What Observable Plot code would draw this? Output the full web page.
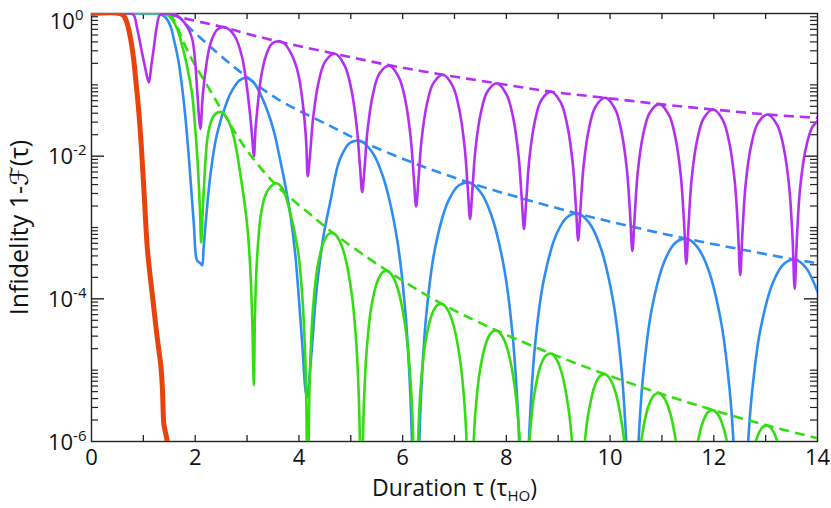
<!DOCTYPE html>
<html><head><meta charset="utf-8">
<script src="https://cdn.jsdelivr.net/npm/d3@7"></script>
<script src="https://cdn.jsdelivr.net/npm/@observablehq/plot@0.6"></script>
<style>html,body{margin:0;padding:0;background:#fff;} #chart svg{display:block;}</style>
</head><body><div id="chart"></div>
<script>
// ---- data: [duration tau, log10(infidelity)] ----
const redLog10 = [[0,0],[0.55,0],[0.62,-0.03],[0.68,-0.12],[0.72,-0.23],[0.77,-0.42],[0.816,-0.66],[0.86,-0.98],[0.91,-1.36],[0.96,-1.85],[1.022,-2.62],[1.08,-3.32],[1.185,-4.02],[1.26,-4.5],[1.34,-4.96],[1.37,-5.3],[1.394,-5.75],[1.42,-5.85],[1.46,-6.0],[1.5,-6.3]];

const purpleLog10 = [[0,0],[0.6,0],[0.8,-0.01],[0.88,-0.21],[0.958,-0.49],[1.035,-0.76],[1.105,-0.967],[1.155,-0.72],[1.2,-0.49],[1.253,-0.21],[1.32,-0.02],[1.45,0],[1.6,-0.01],[1.72,-0.07],[1.85,-0.19],[1.94,-0.35],[2.0,-0.68],[2.04,-1.1],[2.1,-1.617],[2.14,-1.2],[2.19,-0.85],[2.29,-0.43],[2.42,-0.23],[2.53,-0.19],[2.65,-0.22],[2.78,-0.34],[2.9,-0.6],[2.97,-0.89],[3.05,-1.36],[3.1,-1.75],[3.13,-2.005],[3.165,-1.6],[3.195,-1.36],[3.27,-0.89],[3.36,-0.6],[3.47,-0.43],[3.58,-0.388],[3.7,-0.41],[3.82,-0.52],[3.93,-0.7],[4.0,-0.89],[4.09,-1.36],[4.14,-1.8],[4.17,-2.28],
[4.212,-2.0],[4.275,-1.455],[4.38,-0.959],[4.506,-0.673],[4.695,-0.565],[4.884,-0.733],[5.01,-1.06],[5.115,-1.59],[5.178,-2.15],[5.22,-2.505],
[5.262,-2.2],[5.324,-1.63],[5.428,-1.13],[5.553,-0.842],[5.74,-0.733],[5.927,-0.894],[6.052,-1.216],[6.156,-1.748],[6.218,-2.33],[6.26,-2.706],
[6.302,-2.363],[6.364,-1.778],[6.468,-1.268],[6.593,-0.976],[6.78,-0.858],[6.967,-1.02],[7.092,-1.342],[7.196,-1.877],[7.258,-2.476],[7.3,-2.88],
[7.342,-2.502],[7.404,-1.905],[7.508,-1.392],[7.633,-1.098],[7.82,-0.979],[8.007,-1.14],[8.132,-1.463],[8.236,-2.0],[8.298,-2.611],[8.34,-3.02],
[8.382,-2.637],[8.445,-2.028],[8.549,-1.511],[8.674,-1.215],[8.863,-1.096],[9.051,-1.251],[9.176,-1.572],[9.281,-2.108],[9.343,-2.731],[9.385,-3.18],
[9.427,-2.759],[9.49,-2.131],[9.594,-1.608],[9.719,-1.307],[9.908,-1.182],[10.096,-1.338],[10.221,-1.661],[10.326,-2.2],[10.388,-2.838],[10.43,-3.33],
[10.472,-2.874],[10.534,-2.224],[10.638,-1.697],[10.763,-1.394],[10.95,-1.27],[11.137,-1.424],[11.262,-1.746],[11.366,-2.289],[11.428,-2.949],[11.47,-3.51],
[11.512,-2.981],[11.574,-2.311],[11.678,-1.778],[11.803,-1.472],[11.99,-1.346],[12.177,-1.498],[12.302,-1.822],[12.406,-2.369],[12.468,-3.048],[12.51,-3.67],
[12.552,-3.078],[12.615,-2.388],[12.72,-1.852],[12.846,-1.543],[13.035,-1.416],[13.224,-1.565],[13.35,-1.888],[13.455,-2.436],[13.518,-3.134],[13.56,-3.86],
[13.602,-3.16],[13.665,-2.445],[13.77,-1.908],[13.896,-1.598],[14,-1.51]];

const blueLog10 = [[0,0],[1.1,0],[1.3,-0.005],[1.42,-0.05],[1.52,-0.17],[1.6,-0.4],[1.68,-0.68],[1.75,-1.05],[1.81,-1.45],[1.876,-2.01],[1.925,-2.48],[1.973,-2.95],[2.025,-3.44],[2.06,-3.48],[2.1,-3.5],[2.135,-3.53],[2.16,-3.3],[2.2,-2.95],[2.295,-2.25],[2.42,-1.69],[2.62,-1.22],[2.71,-1.08],[2.85,-0.94],[2.98,-0.9],[3.12,-0.96],[3.25,-1.12],[3.39,-1.36],[3.52,-1.66],[3.64,-2.06],[3.74,-2.42],[3.84,-2.85],[3.93,-3.38],[4.0,-4.0],[4.07,-4.7],[4.13,-5.3],[4.16,-5.38],[4.19,-5.2],[4.22,-4.96],[4.27,-4.5],[4.32,-4.02],[4.4,-3.5],[4.48,-3.09],[4.61,-2.62],[4.787,-2.05],[4.996,-1.807],[5.205,-1.796],[5.414,-1.945],[5.623,-2.29],[5.874,-3.08],[6.041,-4.085],[6.146,-5.3],[6.198,-6.51],[6.25,-8],
[6.302,-6.54],[6.3545,-5.35],[6.459,-4.2],[6.626,-3.286],[6.877,-2.634],[7.086,-2.407],[7.295,-2.373],[7.504,-2.506],[7.713,-2.832],[7.964,-3.6],[8.131,-4.595],[8.236,-5.8],[8.288,-7.0],[8.34,-8],
[8.392,-7.03],[8.4445,-5.84],[8.549,-4.68],[8.716,-3.758],[8.967,-3.092],[9.176,-2.852],[9.385,-2.806],[9.594,-2.931],[9.803,-3.248],[10.054,-4.008],[10.221,-4.993],[10.326,-6.19],[10.43,-8],
[10.5345,-6.227],[10.576,-5.66],[10.639,-5.063],[10.806,-4.134],[11.057,-3.458],[11.266,-3.211],[11.475,-3.158],[11.684,-3.275],[11.893,-3.585],[12.144,-4.337],[12.311,-5.317],[12.374,-5.93],[12.416,-6.51],[12.52,-8],
[12.6245,-6.54],[12.666,-5.97],[12.729,-5.375],[12.896,-4.442],[13.147,-3.761],[13.356,-3.508],[13.565,-3.449],[13.774,-3.561],[14,-3.9]];

const greenLog10 = [[0,0],[1.3,0],[1.46,-0.02],[1.55,-0.08],[1.65,-0.21],[1.73,-0.4],[1.81,-0.63],[1.88,-0.88],[1.94,-1.13],[1.99,-1.52],[2.04,-2.01],[2.09,-2.72],[2.115,-3.21],[2.14,-2.85],[2.165,-2.48],[2.195,-2.1],[2.23,-1.78],[2.29,-1.55],[2.36,-1.43],[2.49,-1.38],[2.6,-1.45],[2.71,-1.64],[2.8,-1.93],[2.87,-2.25],[2.94,-2.6],[3.0,-2.95],[3.06,-3.55],[3.1,-4.3],[3.13,-5.21],[3.15,-4.3],[3.18,-3.6],[3.22,-3.15],[3.27,-2.8],[3.35,-2.55],[3.45,-2.43],[3.56,-2.38],[3.68,-2.45],[3.82,-2.76],[3.983,-3.33],[4.066,-3.98],[4.118,-4.745],[4.144,-5.5],[4.165,-7],
[4.18,-6.54],[4.196,-5.54],[4.222,-4.815],[4.274,-4.108],[4.356,-3.563],[4.481,-3.195],[4.584,-3.085],[4.688,-3.09],[4.791,-3.198],[4.895,-3.426],[5.019,-3.937],[5.102,-4.576],[5.153,-5.342],[5.179,-6.1],[5.205,-8],
[5.231,-6.127],[5.257,-5.396],[5.31,-4.683],[5.393,-4.127],[5.519,-3.743],[5.623,-3.621],[5.728,-3.617],[5.832,-3.718],[5.937,-3.94],[6.062,-4.443],[6.146,-5.077],[6.198,-5.84],[6.224,-6.6],[6.25,-8],
[6.276,-6.62],[6.3025,-5.886],[6.355,-5.169],[6.439,-4.609],[6.565,-4.217],[6.67,-4.088],[6.775,-4.076],[6.88,-4.168],[6.985,-4.381],[7.111,-4.873],[7.195,-5.5],[7.2475,-6.259],[7.3,-8],
[7.3525,-6.276],[7.3735,-5.94],[7.405,-5.575],[7.489,-5.008],[7.615,-4.605],[7.72,-4.467],[7.825,-4.447],[7.93,-4.535],[8.035,-4.742],[8.161,-5.229],[8.245,-5.852],[8.2765,-6.237],[8.35,-8],
[8.4225,-6.28],[8.4535,-5.917],[8.495,-5.58],[8.536,-5.345],[8.66,-4.935],[8.764,-4.793],[8.8675,-4.768],[8.971,-4.852],[9.0745,-5.056],[9.199,-5.539],[9.24,-5.798],[9.2815,-6.159],[9.385,-8],
[9.4895,-6.216],[9.531,-5.879],[9.573,-5.643],[9.6985,-5.23],[9.803,-5.084],[9.9075,-5.057],[10.012,-5.139],[10.1165,-5.34],[10.2415,-5.82],[10.284,-6.079],[10.43,-8],
[10.5756,-6.154],[10.617,-5.917],[10.68,-5.665],[10.742,-5.5],[10.846,-5.351],[10.95,-5.322],[11.054,-5.401],[11.158,-5.6],[11.22,-5.795],[11.283,-6.077],[11.47,-8],
[11.657,-6.162],[11.72,-5.909],[11.782,-5.742],[11.886,-5.591],[11.99,-5.56],[12.094,-5.637],[12.198,-5.833],[12.26,-6.027],[12.323,-6.307],[12.51,-8],
[12.762,-6.138],[12.825,-5.963],[12.93,-5.809],[13.035,-5.776],[13.14,-5.85],[13.245,-6.045],[13.308,-6.238],[13.56,-8],
[13.875,-6.16],[14,-6.0]];

// dashed envelopes
const purpleEnvelopeLog10 = [[1.5,0],[1.59,-0.03],[2.53,-0.19],[3.0,-0.285],[3.58,-0.388],[4.64,-0.556],[5.71,-0.72],[6.75,-0.855],[7.8,-0.977],[8.84,-1.094],[9.88,-1.18],[10.95,-1.27],[11.99,-1.346],[13.04,-1.416],[14,-1.463]];
const blueEnvelopeLog10 = [[1.6,0],[1.72,-0.07],[1.876,-0.19],[2.19,-0.4],[2.55,-0.63],[3.0,-0.893],[3.58,-1.196],[4.61,-1.58],[5.15,-1.775],[6.21,-2.095],[7.28,-2.37],[8.34,-2.6],[9.43,-2.815],[10.43,-2.99],[11.49,-3.16],[12.51,-3.305],[13.53,-3.445],[14,-3.5]];
const greenEnvelopeLog10 = [[1.5,0],[1.56,-0.05],[1.91,-0.61],[2.29,-1.08],[2.49,-1.33],[3.0,-1.92],[3.58,-2.42],[4.16,-2.78],[4.64,-3.066],[5.7,-3.605],[6.73,-4.06],[7.77,-4.43],[8.82,-4.755],[9.88,-5.05],[10.94,-5.32],[11.99,-5.56],[13.03,-5.775],[14,-5.955]];

// axes
const xTickValues = [1,2,3,4,5,6,7,8,9,10,11,12,13];
const xTickLabels = [0,2,4,6,8,10,12,14];
const yLabelExponents = [-2,-4,-6];
const yTopLabelExponents = [0];
const yMajorExponents = [-4,-2];
const yMinorTicks = [];
for (let k = -6; k < 0; k++) for (let m = 1; m <= 9; m++) { if (m === 1 && k % 2 === 0) continue; yMinorTicks.push(m * Math.pow(10, k)); }

const colors = {red: "#e8430c", purple: "#b330f2", blue: "#2f8df2", green: "#33dd10", axis: "#222"};
const W = 831, H = 508, mL = 91, mR = 14, mT = 13, mB = 67;
const pw = W - mL - mR, ph = H - mT - mB;

const toRows = arr => arr.map(([x, e]) => ({x, y: Math.pow(10, e)}));
const lineOpts = (stroke, strokeWidth, dash) => ({x: "x", y: "y", stroke, strokeWidth, curve: "catmull-rom", clip: true, strokeLinejoin: "round", strokeLinecap: dash ? "butt" : "round", strokeDasharray: dash || null});
const expLabel = d => "10^{" + (d < 0 ? "-" + (-d) : d) + "}";

const FONT = "'Open Sans', 'DejaVu Sans', sans-serif";

const svg = Plot.plot({
  width: W, height: H,
  marginLeft: mL, marginRight: mR, marginTop: mT, marginBottom: mB,
  x: {domain: [0, 14], axis: null},
  y: {type: "log", domain: [1e-6, 1], axis: null},
  style: {fontFamily: FONT, background: "#fff", color: "#111"},
  marks: [
    Plot.frame({stroke: colors.axis, strokeWidth: 1.4}),
    Plot.tickX(xTickValues, {x: d => d, insetTop: ph - 6, stroke: colors.axis, strokeWidth: 1.3}),
    Plot.tickX(xTickValues, {x: d => d, insetBottom: ph - 6, stroke: colors.axis, strokeWidth: 1.3}),
    Plot.tickY(yMinorTicks, {y: d => d, insetRight: pw - 7, stroke: colors.axis, strokeWidth: 1.2}),
    Plot.tickY(yMinorTicks, {y: d => d, insetLeft: pw - 7, stroke: colors.axis, strokeWidth: 1.2}),
    Plot.tickY(yMajorExponents, {y: d => Math.pow(10, d), insetRight: pw - 13, stroke: colors.axis, strokeWidth: 1.4}),
    Plot.tickY(yMajorExponents, {y: d => Math.pow(10, d), insetLeft: pw - 13, stroke: colors.axis, strokeWidth: 1.4}),
    Plot.line(toRows(blueLog10), lineOpts(colors.blue, 2.6)),
    Plot.line(toRows(blueEnvelopeLog10), lineOpts(colors.blue, 2.6, "10,6")),
    Plot.line(toRows(greenLog10), lineOpts(colors.green, 2.6)),
    Plot.line(toRows(greenEnvelopeLog10), lineOpts(colors.green, 2.6, "10,6")),
    Plot.line(toRows(purpleLog10), lineOpts(colors.purple, 2.6)),
    Plot.line(toRows(purpleEnvelopeLog10), lineOpts(colors.purple, 2.6, "10,6")),
    Plot.line(toRows(redLog10), lineOpts(colors.red, 5)),
    Plot.text(xTickLabels, {x: d => d, frameAnchor: "bottom", lineAnchor: "top", dy: 8, text: d => String(d), fontSize: 22, fill: "#111"}),
    Plot.text(yLabelExponents, {y: d => Math.pow(10, d), frameAnchor: "left", textAnchor: "end", dx: -5, dy: 1, text: expLabel, fontSize: 22, fill: "#111"}),
    Plot.text(yTopLabelExponents, {y: d => Math.pow(10, d), frameAnchor: "left", textAnchor: "end", dx: -8, dy: 8, text: expLabel, fontSize: 22, fill: "#111"}),
    Plot.text(["Duration τ (τ_{HO})"], {frameAnchor: "bottom", textAnchor: "middle", lineAnchor: "middle", dy: 47, fontSize: 23, letterSpacing: 1, fill: "#111"}),
    Plot.text(["Infidelity 1-ℱ(τ)"], {frameAnchor: "left", textAnchor: "middle", rotate: -90, dx: -72, fontSize: 25, fill: "#111"})
  ]
});

// rich text: superscripts / subscripts
const NS = "http://www.w3.org/2000/svg";
svg.querySelectorAll("text").forEach(t => {
  const s = t.textContent;
  let m = s.match(/^(.*)\^\{(.*)\}$/);
  if (m) {
    t.textContent = "";
    const a = document.createElementNS(NS, "tspan"); a.textContent = m[1]; t.appendChild(a);
    const b = document.createElementNS(NS, "tspan"); b.textContent = m[2]; b.setAttribute("font-size", "15"); b.setAttribute("dy", "-9"); t.appendChild(b);
    return;
  }
  m = s.match(/^(.*)_\{(.*)\}(.*)$/);
  if (m) {
    t.textContent = "";
    const a = document.createElementNS(NS, "tspan"); a.textContent = m[1]; t.appendChild(a);
    const b = document.createElementNS(NS, "tspan"); b.textContent = m[2]; b.setAttribute("font-size", "15"); b.setAttribute("dy", "5"); t.appendChild(b);
    const c = document.createElementNS(NS, "tspan"); c.textContent = m[3]; c.setAttribute("dy", "-5"); t.appendChild(c);
  }
});
document.getElementById("chart").appendChild(svg);
</script>
</body></html>
